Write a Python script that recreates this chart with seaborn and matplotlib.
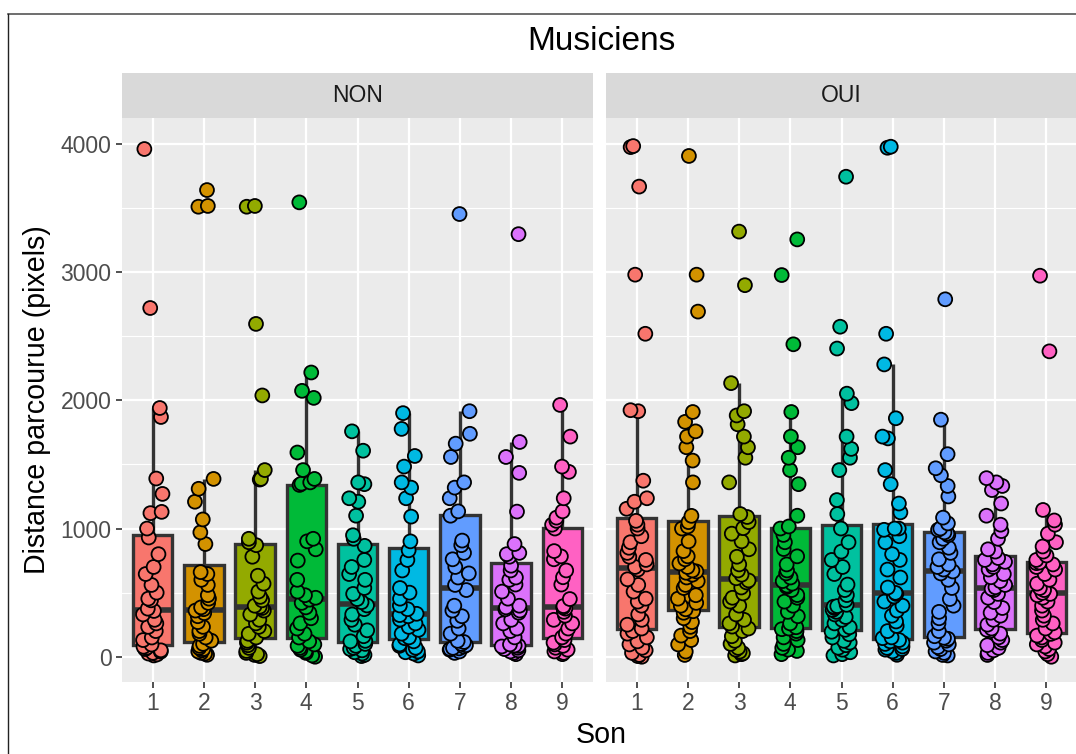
import numpy as np
import pandas as pd
import seaborn as sns
import matplotlib.pyplot as plt
from matplotlib.lines import Line2D

plt.rcParams['font.family'] = ['Liberation Sans', 'DejaVu Sans']

# Distance parcourue (pixels) par son, non-musiciens
non_1 = [10, 18, 25, 30, 40, 50, 60, 70, 78, 95, 130, 150, 200, 233, 260, 288, 330, 357, 375, 440, 453, 500,
         560, 645, 700, 800, 930, 1000, 1120, 1130, 1270, 1390, 1870, 1940, 2720, 3960]
non_2 = [15, 25, 30, 41, 50, 60, 69, 85, 100, 125, 150, 179, 200, 233, 270, 316, 340, 360, 371, 385, 420, 453,
         480, 560, 600, 645, 660, 879, 970, 1071, 1209, 1310, 1387, 3510, 3516, 3640]
non_3 = [5, 14, 20, 30, 45, 69, 90, 110, 124, 150, 179, 200, 233, 260, 288, 330, 360, 380, 390, 398, 440, 467,
         508, 570, 632, 780, 870, 893, 920, 1382, 1387, 1456, 2038, 2596, 3510, 3516]
non_4 = [0, 10, 30, 41, 55, 69, 85, 96, 120, 150, 179, 220, 261, 300, 343, 385, 420, 445, 460, 480, 508, 600,
         750, 838, 900, 920, 1340, 1350, 1360, 1387, 1456, 1593, 2019, 2074, 2217, 3544]
non_5 = [5, 14, 25, 35, 50, 60, 69, 85, 100, 120, 124, 160, 206, 250, 288, 330, 371, 400, 426, 450, 490, 536,
         600, 645, 700, 755, 865, 920, 948, 1100, 1209, 1236, 1346, 1360, 1607, 1758]
non_6 = [10, 25, 35, 41, 55, 70, 85, 96, 120, 145, 151, 180, 210, 233, 260, 290, 316, 325, 335, 371, 400, 453,
         500, 536, 673, 755, 830, 900, 1093, 1236, 1319, 1360, 1483, 1566, 1777, 1900]
non_7 = [30, 41, 55, 60, 65, 69, 80, 90, 100, 115, 124, 180, 220, 280, 316, 360, 398, 520, 560, 618, 650, 700,
         760, 810, 870, 906, 1100, 1134, 1236, 1319, 1360, 1558, 1662, 1739, 1915, 3453]
non_8 = [20, 30, 41, 50, 60, 70, 80, 85, 88, 96, 151, 200, 220, 260, 288, 343, 360, 370, 385, 398, 453, 508,
         563, 600, 618, 673, 710, 780, 800, 810, 879, 1132, 1434, 1558, 1675, 3296]
non_9 = [20, 30, 41, 55, 70, 85, 96, 110, 130, 151, 180, 220, 260, 288, 320, 350, 375, 385, 395, 450, 563, 620,
         673, 760, 783, 824, 1000, 1030, 1060, 1085, 1134, 1236, 1442, 1483, 1717, 1964]

# musiciens
oui_1 = [0, 5, 14, 30, 50, 70, 96, 120, 151, 180, 200, 220, 250, 288, 330, 398, 430, 453, 508, 560, 604, 680,
         700, 720, 755, 780, 810, 850, 893, 940, 1000, 1030, 1060, 1154, 1209, 1236, 1373, 1915, 1923, 2519,
         2980, 3667, 3975, 3983]
oui_2 = [14, 40, 96, 130, 165, 200, 233, 270, 300, 343, 355, 370, 398, 420, 453, 480, 536, 560, 590, 618, 640,
         655, 665, 673, 700, 728, 760, 783, 824, 900, 1000, 1016, 1050, 1099, 1360, 1530, 1634, 1717, 1758,
         1832, 1909, 2692, 2980, 3906]
oui_3 = [10, 20, 27, 40, 55, 69, 100, 124, 160, 200, 220, 235, 260, 288, 330, 398, 430, 460, 494, 540, 580,
         595, 612, 640, 673, 720, 780, 838, 900, 960, 1003, 1050, 1090, 1113, 1360, 1552, 1634, 1717, 1813,
         1882, 1915, 2134, 2898, 3316]
oui_4 = [20, 45, 55, 69, 100, 130, 151, 180, 200, 215, 220, 230, 260, 316, 350, 398, 430, 460, 481, 520, 545,
         555, 570, 590, 618, 650, 673, 720, 783, 840, 893, 950, 1000, 1016, 1100, 1346, 1456, 1552, 1634, 1717,
         1909, 2437, 2977, 3255]
oui_5 = [10, 20, 35, 55, 70, 90, 110, 124, 150, 175, 195, 210, 230, 260, 288, 310, 330, 350, 365, 380, 390,
         395, 405, 440, 481, 520, 563, 645, 700, 755, 820, 893, 1000, 1113, 1222, 1456, 1552, 1621, 1717, 1978,
         2052, 2404, 2574, 3744]
oui_6 = [15, 30, 41, 55, 60, 69, 80, 100, 110, 120, 130, 145, 151, 200, 240, 275, 320, 360, 398, 430, 470,
         490, 498, 540, 618, 680, 755, 800, 893, 940, 990, 1000, 1000, 1126, 1195, 1346, 1456, 1703, 1717,
         1860, 2280, 2519, 3970, 3978]
oui_7 = [10, 14, 30, 41, 60, 75, 96, 110, 125, 140, 148, 160, 200, 261, 300, 350, 398, 450, 536, 600, 650,
         665, 680, 700, 720, 760, 810, 850, 893, 920, 948, 960, 970, 990, 1000, 1040, 1085, 1250, 1332, 1415,
         1470, 1580, 1849, 2788]
oui_8 = [14, 30, 50, 69, 90, 110, 130, 151, 180, 200, 210, 220, 250, 288, 320, 343, 380, 426, 460, 490, 520,
         530, 542, 560, 590, 620, 645, 680, 700, 720, 740, 755, 770, 820, 838, 920, 980, 1030, 1100, 1195, 1300,
         1332, 1360, 1393]
oui_9 = [0, 20, 41, 60, 80, 96, 110, 130, 150, 165, 178, 190, 220, 260, 288, 320, 360, 398, 430, 460, 480,
         490, 498, 520, 536, 570, 600, 645, 680, 700, 720, 730, 735, 755, 790, 820, 860, 893, 960, 1030, 1063,
         1145, 2382, 2972]

sons = ['1', '2', '3', '4', '5', '6', '7', '8', '9']
groups = ['NON', 'OUI']
palette = ['#F8766D', '#D39200', '#93AA00', '#00BA38', '#00C19F', '#00B9E3', '#619CFF', '#DB72FB', '#FF61C3']

# long format table
rows = []
for grp, lists in zip(groups, [[non_1, non_2, non_3, non_4, non_5, non_6, non_7, non_8, non_9],
                               [oui_1, oui_2, oui_3, oui_4, oui_5, oui_6, oui_7, oui_8, oui_9]]):
    for son, vals in zip(sons, lists):
        for v in vals:
            rows.append((grp, son, v))
df = pd.DataFrame(rows, columns=['musicien', 'son', 'distance'])

np.random.seed(3)

W, H = 1076, 754
fig = plt.figure(figsize=(W / 100, H / 100), dpi=100)

panel_left = [122, 606]
panel_w = 471
panel_bottom, panel_top = 682, 118
strip_top = 73

for i, grp in enumerate(groups):
    ax = fig.add_axes([panel_left[i] / W, 1 - panel_bottom / H, panel_w / W, (panel_bottom - panel_top) / H])
    sub = df[df['musicien'] == grp]

    sns.boxplot(data=sub, x='son', y='distance', hue='son', order=sons, hue_order=sons, palette=palette,
                legend=False, saturation=1, width=0.77, showfliers=False, showcaps=False,
                linecolor='#333333', linewidth=2.4,
                medianprops={'linewidth': 4.0, 'color': '#333333'}, ax=ax)
    sns.stripplot(data=sub, x='son', y='distance', hue='son', order=sons, hue_order=sons, palette=palette,
                  legend=False, jitter=0.2, size=10, edgecolor='black', linewidth=1.3, zorder=3, ax=ax)

    ax.set_facecolor('#EBEBEB')
    ax.set_xlim(-0.6, 8.6)
    ax.set_ylim(-197, 4202)
    ax.set_yticks([0, 1000, 2000, 3000, 4000])
    ax.set_yticks([500, 1500, 2500, 3500], minor=True)
    ax.set_axisbelow(True)
    ax.grid(which='major', color='white', linewidth=1.6)
    ax.grid(which='minor', axis='y', color='white', linewidth=0.8)
    for s in ax.spines.values():
        s.set_visible(False)
    ax.set_xlabel('')
    ax.set_ylabel('')
    ax.tick_params(axis='both', which='major', color='#333333', length=4.5, width=1.2,
                   labelcolor='#4D4D4D', labelsize=16.5, pad=3)
    ax.tick_params(axis='y', which='minor', length=0)
    if i == 1:
        ax.tick_params(axis='y', left=False, labelleft=False)

    # facet strip
    sax = fig.add_axes([panel_left[i] / W, 1 - panel_top / H, panel_w / W, (panel_top - strip_top) / H])
    sax.set_facecolor('#D9D9D9')
    sax.set_xticks([])
    sax.set_yticks([])
    for s in sax.spines.values():
        s.set_visible(False)
    sax.text(0.5, 0.5, grp, ha='center', va='center', fontsize=16.5, color='#1A1A1A',
             transform=sax.transAxes)

fig.text(601 / W, 1 - 41 / H, 'Musiciens', ha='center', va='center', fontsize=24, color='black')
fig.text(601 / W, 1 - 735 / H, 'Son', ha='center', va='center', fontsize=20.6, color='black')
fig.text(37 / W, 1 - 400 / H, 'Distance parcourue (pixels)', ha='center', va='center', rotation=90,
         fontsize=20.6, color='black')

# frame of the screenshot
fig.add_artist(Line2D([7.5 / W, 1], [1 - 14 / H, 1 - 14 / H], transform=fig.transFigure, color='#555555', lw=1.2))
fig.add_artist(Line2D([7.5 / W, 7.5 / W], [0, 1 - 14 / H], transform=fig.transFigure, color='#222222', lw=1))

fig.savefig('out.png', dpi=100)
